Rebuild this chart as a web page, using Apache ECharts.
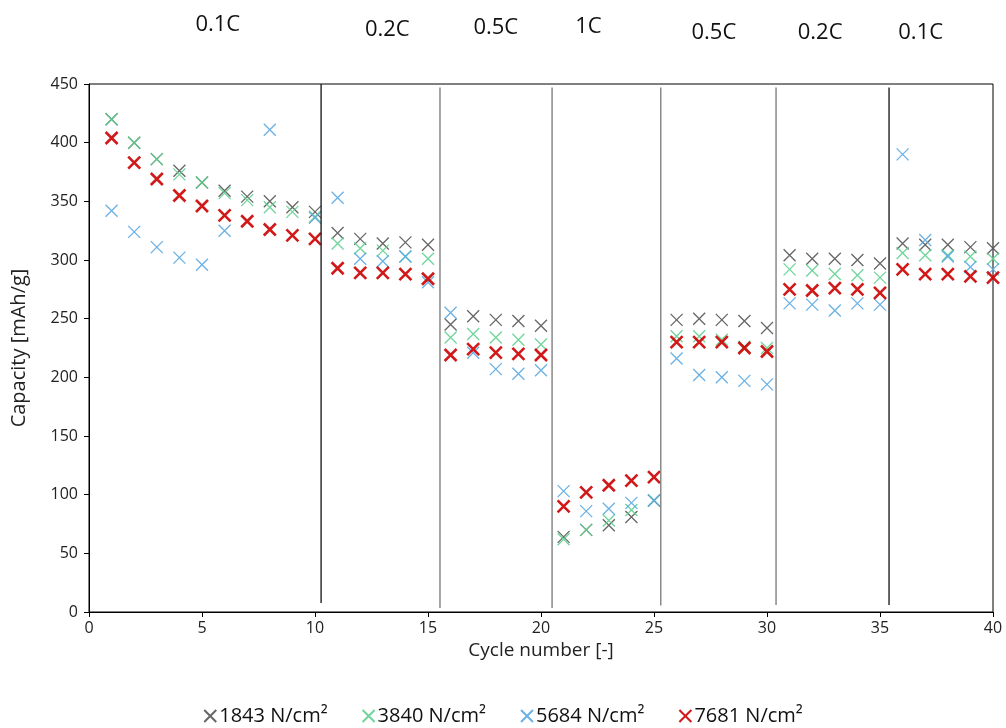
<!DOCTYPE html>
<html>
<head>
<meta charset="utf-8">
<script src="https://cdn.jsdelivr.net/npm/echarts@6/dist/echarts.min.js"></script>
<style>
  html, body { margin: 0; padding: 0; background: #fff; }
  #chart { width: 1006px; height: 728px; }
</style>
</head>
<body>
<div id="chart"></div>
<script>
const cycles = []
for (let i = 1; i <= 40; i++) cycles.push(i)

// capacity values per pressure [mAh/g], cycle 1..40
const s1843 = [420, 400, 386, 376, 366, 359, 354, 350, 345, 341, 323, 318, 314, 315, 313, 245, 252, 249, 248, 244, 64, 70, 74, 81, 95, 249, 250, 249, 248, 242, 304, 301, 301, 300, 297, 314, 313, 313, 311, 310]
const s3840 = [420, 400, 386, 373, 366, 357, 351, 345, 341, 337, 314, 310, 308, 303, 301, 234, 237, 234, 232, 228, 62, 70, 78, 87, 95, 235, 235, 232, 226, 225, 292, 291, 288, 287, 285, 306, 304, 304, 303, 301]
const s5684 = [342, 324, 311, 302, 296, 325, null, 411, null, 336, 353, 301, 299, 303, 281, 255, 221, 207, 203, 206, 103, 86, 88, 93, 95, 216, 202, 200, 197, 194, 263, 262, 257, 263, 262, 390, 317, 303, 294, 292]
const s7681 = [404, 383, 369, 355, 346, 338, 333, 326, 321, 318, 293, 289, 289, 288, 284, 219, 224, 221, 220, 219, 90, 102, 108, 112, 115, 230, 230, 230, 225, 222, 275, 274, 276, 275, 272, 292, 288, 288, 286, 285]

const seriesNames = ['1843 N/cm²', '3840 N/cm²', '5684 N/cm²', '7681 N/cm²']

// C-rate separators and labels
const dividerX = [10.27, 15.53, 20.49, 25.3, 30.4, 35.4]
const dividerBottom = [7.7, 3.4, 3.4, 5.5, 6, 6]
const dividerTop = [450, 447, 447, 447, 447, 447]
const rateLabels = ['0.1C', '0.2C', '0.5C', '1C', '0.5C', '0.2C', '0.1C']
const rateX = [5.7, 13.2, 18.0, 22.1, 27.65, 32.35, 36.8]
const rateY = [25, 30, 28, 27, 33, 33, 33]

const FONT = '"Open Sans", "Noto Sans", sans-serif'
const cross = 'path://M0,0L10,10M10,0L0,10'

const chart = echarts.init(document.getElementById('chart'))

function pts(arr) {
    return cycles.map((c, i) => [c, arr[i]]).filter(p => p[1] != null)
}

function scatter(name, arr, color, width) {
    return {
        name: name,
        type: 'scatter',
        symbol: cross,
        symbolSize: 12,
        itemStyle: { color: 'transparent', borderColor: color, borderWidth: width, opacity: 0.9 },
        data: pts(arr)
    }
}

const dividerColors = ['#222', '#808080', '#808080', '#808080', '#808080', '#222']
const dividers = dividerX.map((x, i) => ({
    type: 'line',
    silent: true,
    symbol: 'none',
    lineStyle: { color: dividerColors[i], width: 1.4 },
    data: [[x, dividerBottom[i]], [x, dividerTop[i]]]
}))

var option = {
    animation: false,
    grid: { left: 89, right: 13, top: 84, bottom: 116, show: true, borderColor: '#000', borderWidth: 1 },
    legend: {
        data: seriesNames,
        bottom: -3,
        left: 'center',
        itemWidth: 12,
        itemHeight: 12,
        itemGap: 34,
        textStyle: { fontFamily: FONT, fontSize: 20, color: '#111', padding: [0, 0, 0, -2] }
    },
    xAxis: {
        type: 'value',
        min: 0, max: 40, interval: 5,
        name: 'Cycle number [-]',
        nameLocation: 'middle',
        nameGap: 23,
        nameTextStyle: { fontFamily: FONT, fontSize: 19, color: '#222' },
        axisLine: { lineStyle: { color: '#000', width: 1 } },
        axisTick: { show: true, length: 5, lineStyle: { color: '#000' } },
        axisLabel: { fontFamily: FONT, fontSize: 16, color: '#222', margin: 8 },
        splitLine: { show: false }
    },
    yAxis: {
        type: 'value',
        min: 0, max: 450, interval: 50,
        name: 'Capacity [mAh/g]',
        nameLocation: 'middle',
        nameGap: 60,
        nameTextStyle: { fontFamily: FONT, fontSize: 20, color: '#222' },
        axisLine: { show: true, lineStyle: { color: '#000', width: 1 } },
        axisTick: { show: true, length: 5, lineStyle: { color: '#000' } },
        axisLabel: { fontFamily: FONT, fontSize: 16, color: '#222', margin: 11 },
        splitLine: { show: false }
    },
    series: [
        scatter(seriesNames[0], s1843, '#555555', 1.3),
        scatter(seriesNames[1], s3840, '#5fd08f', 1.3),
        scatter(seriesNames[2], s5684, '#5aa9e2', 1.3),
        scatter(seriesNames[3], s7681, '#cc0000', 2.6)
    ].concat(dividers)
}
chart.setOption(option)

// C-rate labels above the plot
chart.setOption({
    graphic: rateLabels.map((t, i) => ({
        type: 'text',
        x: chart.convertToPixel({ gridIndex: 0 }, [rateX[i], 0])[0],
        y: rateY[i],
        style: {
            text: t,
            fontFamily: FONT,
            fontSize: 22,
            fill: '#111',
            textAlign: 'center',
            textVerticalAlign: 'middle'
        }
    }))
})
</script>
</body>
</html>
